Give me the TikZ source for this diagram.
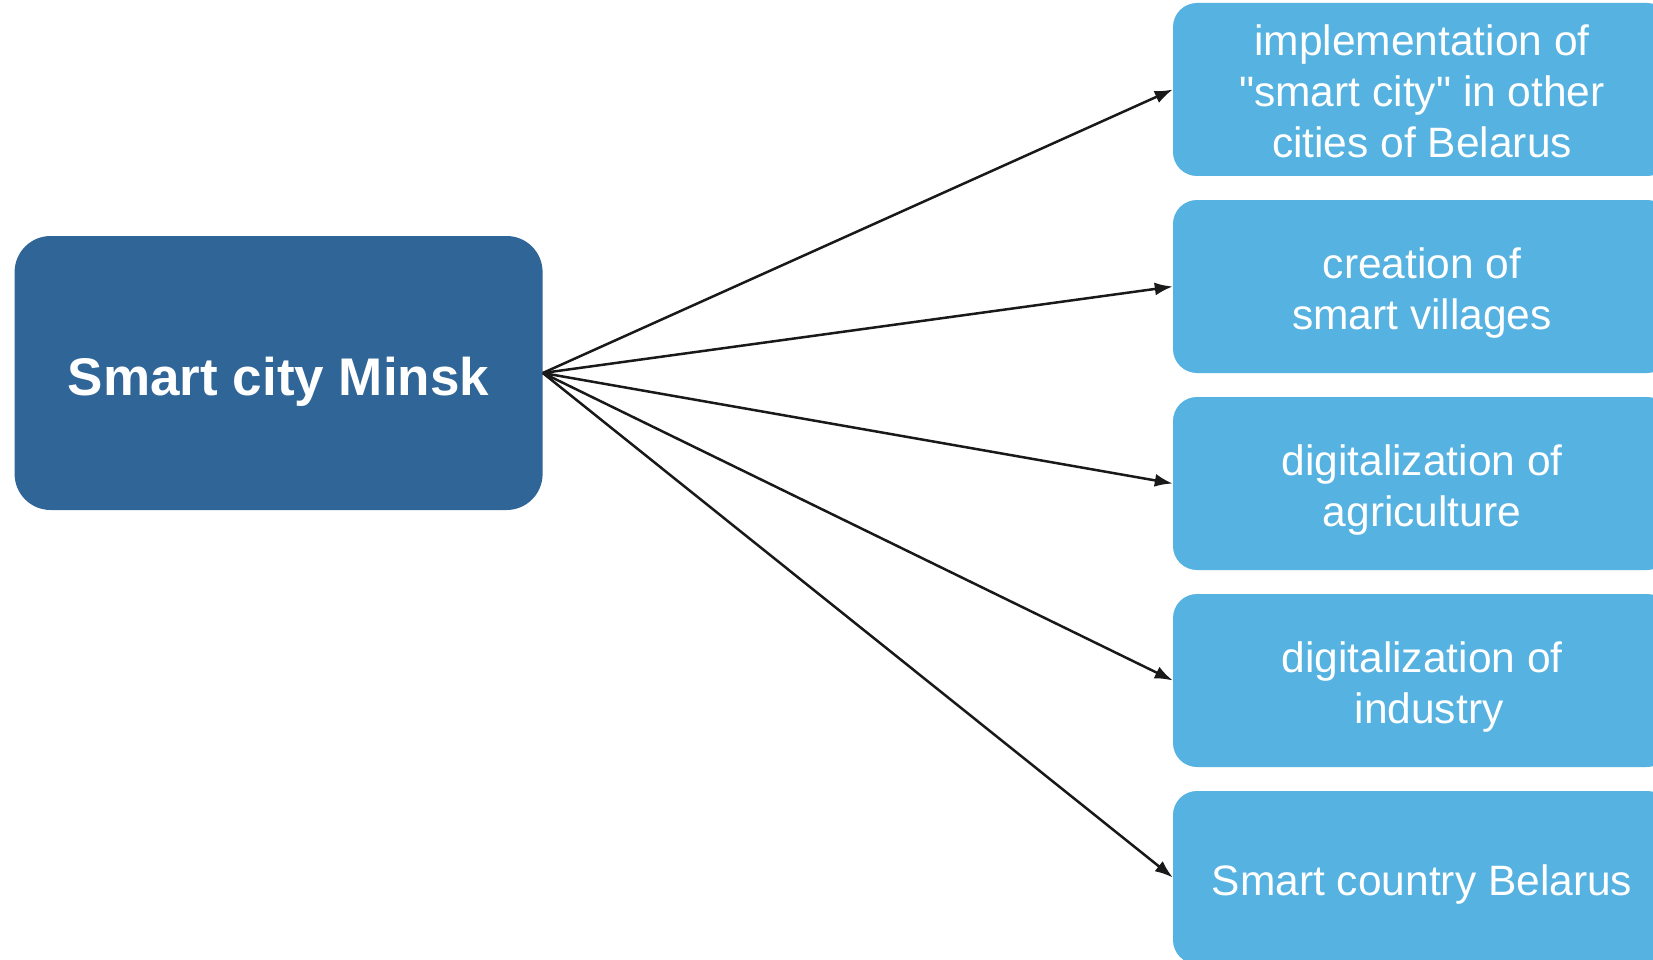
\documentclass[tikz,border=0pt]{standalone}
\usepackage{fontspec}
\setmainfont{Liberation Sans}[Ligatures=TeXOff]
\usetikzlibrary{arrows.meta}
\definecolor{darkblue}{RGB}{47,101,151}
\definecolor{lightblue}{RGB}{86,178,224}
\definecolor{arrowcol}{RGB}{25,25,25}
\tikzset{
  mainbox/.style={fill=darkblue, draw=none, rounded corners=36pt, minimum width=528pt, minimum height=274pt, inner sep=0pt},
  maintext/.style={text=white, inner sep=0pt, font=\bfseries\fontsize{53}{63}\selectfont},
  goalbox/.style={fill=lightblue, draw=none, rounded corners=24pt, minimum width=498pt, minimum height=173pt, inner sep=0pt},
  goaltext/.style={text=white, inner sep=0pt, align=center, font=\fontsize{42.5}{51}\selectfont},
  link/.style={draw=arrowcol, line width=2.5pt, -{Latex[length=18pt,width=13pt]}}
}
\begin{document}
\begin{tikzpicture}[x=1pt,y=-1pt]
\useasboundingbox (0,0) rectangle (1653,960);
\clip (0,0) rectangle (1653,960);
\node[mainbox] (L) at (278.6,373) {};
\node[maintext] (Lt) at ([yshift=-8.5pt]L.center) {Smart city Minsk};
\node[goalbox] (R1) at (1422,89.5) {};
\node[goalbox] (R2) at (1422,286.5) {};
\node[goalbox] (R3) at (1422,483.5) {};
\node[goalbox] (R4) at (1422,680.5) {};
\node[goalbox] (R5) at (1422,877.5) {};
\node[goaltext] (T1) at ([yshift=-2pt]R1.center) {implementation of\\"smart city" in other\\cities of Belarus};
\node[goaltext] (T2) at ([yshift=-7pt]R2.center) {creation of\\smart villages};
\node[goaltext] (T3) at ([yshift=-7pt]R3.center) {digitalization of\\agriculture};
\node[goaltext] (T4) at ([yshift=-7pt]R4.center) {digitalization of\\\hspace*{14pt}industry};
\node[goaltext] (T5) at ([yshift=-7pt]R5.center) {Smart country Belarus};
\foreach \r in {R1,R2,R3,R4,R5}{
  \draw[link] (L.east) -- (\r.west);
}
\end{tikzpicture}
\end{document}
